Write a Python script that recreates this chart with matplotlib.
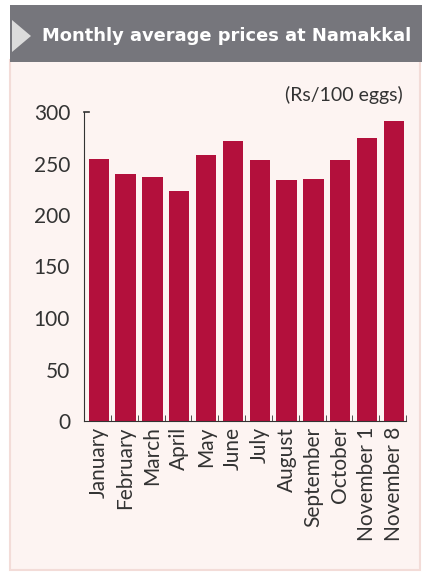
import matplotlib.pyplot as plt
from matplotlib.patches import Rectangle, Polygon

months = ['January', 'February', 'March', 'April', 'May', 'June', 'July',
          'August', 'September', 'October', 'November 1', 'November 8']
prices = [254, 240, 237, 223, 258, 272, 253, 234, 235, 253, 275, 291]
yticks = [0, 50, 100, 150, 200, 250, 300]

W, H = 422, 573
fig = plt.figure(figsize=(W / 100, H / 100), dpi=100)
fig.patch.set_facecolor('white')

# background panel and title bar
fig.patches.append(Rectangle((10 / W, 3 / H), 410 / W, 510 / H, transform=fig.transFigure,
                             facecolor='#fdf4f2', edgecolor='#f3dcd8', lw=1.5, zorder=-2))
fig.patches.append(Rectangle((10 / W, 1 - 62 / H), 412 / W, 57 / H, transform=fig.transFigure,
                             facecolor='#76767c', edgecolor='none', zorder=-1))
fig.patches.append(Polygon([(12 / W, 1 - 20 / H), (12 / W, 1 - 52 / H), (31 / W, 1 - 36 / H)],
                           closed=True, transform=fig.transFigure,
                           facecolor='#dcdcdc', edgecolor='none', zorder=-1))
fig.text(227 / W, 1 - 36 / H, 'Monthly average prices at Namakkal', color='white',
         family='DejaVu Sans', weight='bold',
         fontsize=12.9, ha='center', va='center')

ax = fig.add_axes([84 / W, 1 - 421 / H, 322 / W, 309 / H])
ax.set_zorder(5)
ax.set_facecolor('none')
x = list(range(len(months)))
ax.bar(x, prices, width=0.76, color='#b3103c', zorder=2)

ax.set_xlim(-0.55, 11.45)
ax.set_ylim(0, 300)
ax.set_yticks(yticks)
ax.set_yticklabels([str(v) for v in yticks], family='Lato', fontsize=15, color='#333333')
ax.tick_params(axis='y', length=0, pad=10)
ax.set_xticks(x)
ax.set_xticklabels(months, rotation=90, family='Lato', fontsize=15, color='#333333')
ax.tick_params(axis='x', length=0, pad=4)
ax.set_xticks([i + 0.45 for i in range(12)], minor=True)
ax.tick_params(axis='x', which='minor', direction='in', length=4, color='#333333')

for s in ['top', 'right']:
    ax.spines[s].set_visible(False)
ax.spines['left'].set_color('#333333')
ax.spines['bottom'].set_color('#333333')
ax.plot([-0.55, -0.35], [300, 300], color='#333333', lw=1.2, clip_on=False, zorder=3)

fig.text(403 / W, 1 - 95 / H, '(Rs/100 eggs)', family='Lato', fontsize=14,
         color='#333333', ha='right', va='center')

fig.savefig('out.png', dpi=100)
